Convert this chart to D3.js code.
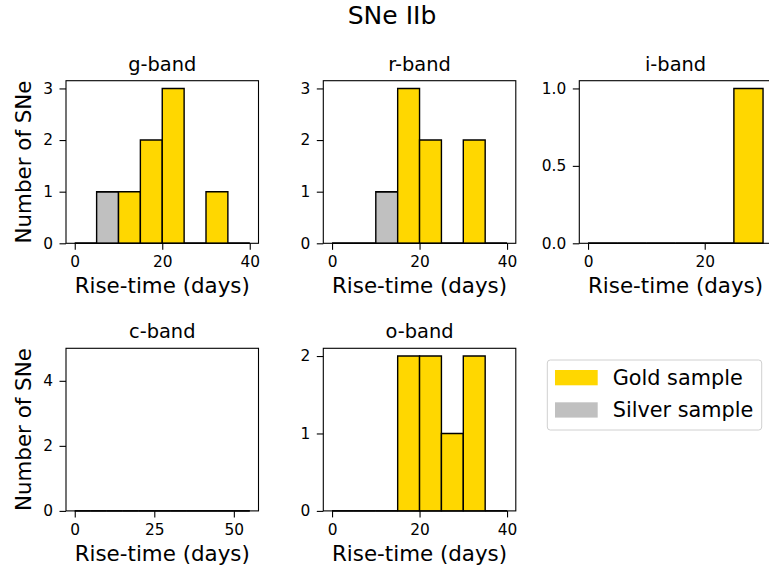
<!DOCTYPE html>
<html>
<head>
<meta charset="utf-8">
<script src="https://cdn.jsdelivr.net/npm/d3@7"></script>
<style>
body { margin: 0; background: #fff; overflow: hidden; }
svg { display: block; font-family: "DejaVu Sans", sans-serif; }
</style>
</head>
<body>
<svg id="chart" width="769" height="574"></svg>
<script>
// counts per 5-day bin, bins start at 0 days
const binWidth = 5;
const bandNames = ["g-band", "r-band", "i-band", "c-band", "o-band"];
const gBandGold   = [0, 0, 1, 2, 3, 0, 1, 0];
const gBandSilver = [0, 1, 0, 0, 0, 0, 0, 0];
const rBandGold   = [0, 0, 0, 3, 2, 0, 2, 0];
const rBandSilver = [0, 0, 1, 0, 0, 0, 0, 0];
const iBandGold   = [0, 0, 0, 0, 0, 1];
const iBandSilver = [0, 0, 0, 0, 0, 0];
const cBandGold   = [0, 0, 0, 0, 0, 0, 0, 0, 0, 0, 0];
const cBandSilver = [0, 0, 0, 0, 0, 0, 0, 0, 0, 0, 0];
const oBandGold   = [0, 0, 0, 2, 2, 1, 2, 0];
const oBandSilver = [0, 0, 0, 0, 0, 0, 0, 0];

const xTickValues = [[0, 20, 40], [0, 20, 40], [0, 20], [0, 25, 50], [0, 20, 40]];
const yTickValues = [[0, 1, 2, 3], [0, 1, 2, 3], [0, 0.5, 1], [0, 2, 4], [0, 1, 2]];
const yTickFormats = ["d", "d", ".1f", "d", "d"];

const legendLabels = ["Gold sample", "Silver sample"];
const goldColor = "#ffd700";
const silverColor = "#c0c0c0";

const panels = [
    { gold: gBandGold, silver: gBandSilver, row: 0, col: 0 },
    { gold: rBandGold, silver: rBandSilver, row: 0, col: 1 },
    { gold: iBandGold, silver: iBandSilver, row: 0, col: 2 },
    { gold: cBandGold, silver: cBandSilver, row: 1, col: 0 },
    { gold: oBandGold, silver: oBandSilver, row: 1, col: 1 }
];

const colLeft = [66, 323.3, 579.3];
const rowTop = [80.7, 348.3];
const panelW = 192.5;
const panelH = 162.6;

let svg = d3.select("#chart");

svg.append("text")
    .attr("x", 392)
    .attr("y", 24)
    .attr("text-anchor", "middle")
    .style("font-size", "25px")
    .text("SNe IIb");

panels.forEach((p, k) => {
    let left = colLeft[p.col];
    let top = rowTop[p.row];
    let nBins = p.gold.length;
    let xMax = nBins * binWidth;
    let totals = p.gold.map((g, i) => g + p.silver[i]);
    let yMax = d3.max(totals) > 0 ? d3.max(totals) * 1.05 : 5;

    let xScale = d3.scaleLinear()
        .domain([-0.05 * xMax, xMax * 1.05])
        .range([0, panelW]);
    let yScale = d3.scaleLinear()
        .domain([0, yMax])
        .range([panelH, 0]);

    let g = svg.append("g")
        .attr("transform", `translate(${left}, ${top})`);

    // bars: silver at the bottom, gold stacked on it
    let bins = d3.range(nBins).map(i => ({
        x0: i * binWidth,
        x1: (i + 1) * binWidth,
        silver: p.silver[i],
        gold: p.gold[i]
    }));

    const barPath = (x0, x1, y0, y1) =>
        `M${xScale(x0)},${yScale(y0)}H${xScale(x1)}V${yScale(y1)}H${xScale(x0)}Z`;

    g.selectAll("path.silver")
        .data(bins)
        .enter()
        .append("path")
        .attr("class", "silver")
        .attr("d", d => barPath(d.x0, d.x1, 0, d.silver))
        .style("fill", silverColor)
        .style("stroke", "#000")
        .style("stroke-width", 1.4);

    g.selectAll("path.gold")
        .data(bins)
        .enter()
        .append("path")
        .attr("class", "gold")
        .attr("d", d => barPath(d.x0, d.x1, d.silver, d.silver + d.gold))
        .style("fill", goldColor)
        .style("stroke", "#000")
        .style("stroke-width", 1.4);

    // frame
    g.append("rect")
        .attr("width", panelW)
        .attr("height", panelH)
        .style("fill", "none")
        .style("stroke", "#000")
        .style("stroke-width", 1.1);

    let xAxis = d3.axisBottom(xScale)
        .tickValues(xTickValues[k])
        .tickSize(6.5)
        .tickPadding(6.5)
        .tickFormat(d3.format("d"));
    let yAxis = d3.axisLeft(yScale)
        .tickValues(yTickValues[k])
        .tickSize(6.5)
        .tickPadding(6.5)
        .tickFormat(d3.format(yTickFormats[k]));

    let xg = g.append("g")
        .attr("transform", `translate(0, ${panelH})`)
        .call(xAxis);
    let yg = g.append("g").call(yAxis);

    [xg, yg].forEach(ax => {
        ax.select(".domain").remove();
        ax.selectAll("line").style("stroke", "#000").style("stroke-width", 1.1);
        ax.selectAll("text")
            .style("font-family", "DejaVu Sans")
            .style("font-size", "15.4px")
            .style("fill", "#000");
    });

    g.append("text")
        .attr("x", panelW / 2)
        .attr("y", -10)
        .attr("text-anchor", "middle")
        .style("font-size", "19.4px")
        .text(bandNames[k]);

    g.append("text")
        .attr("x", panelW / 2)
        .attr("y", panelH + 50)
        .attr("text-anchor", "middle")
        .style("font-size", "21.4px")
        .text("Rise-time (days)");

    if (p.col === 0) {
        g.append("text")
            .attr("transform", `translate(${31 - left}, ${panelH / 2}) rotate(-90)`)
            .attr("text-anchor", "middle")
            .style("font-size", "21.4px")
            .text("Number of SNe");
    }
});

// legend
let legend = svg.append("g").attr("transform", "translate(547.3, 360)");
legend.append("rect")
    .attr("width", 214.4)
    .attr("height", 70)
    .attr("rx", 3)
    .style("fill", "#fff")
    .style("stroke", "#d0d0d0")
    .style("stroke-width", 1);

legendLabels.forEach((label, i) => {
    legend.append("rect")
        .attr("x", 7.7)
        .attr("y", 10 + i * 32.3)
        .attr("width", 42.7)
        .attr("height", 15.3)
        .style("fill", i === 0 ? goldColor : silverColor);
    legend.append("text")
        .attr("x", 65.4)
        .attr("y", 24.5 + i * 32.3)
        .style("font-size", "20.8px")
        .style("fill", "#000")
        .text(label);
});
</script>
</body>
</html>
